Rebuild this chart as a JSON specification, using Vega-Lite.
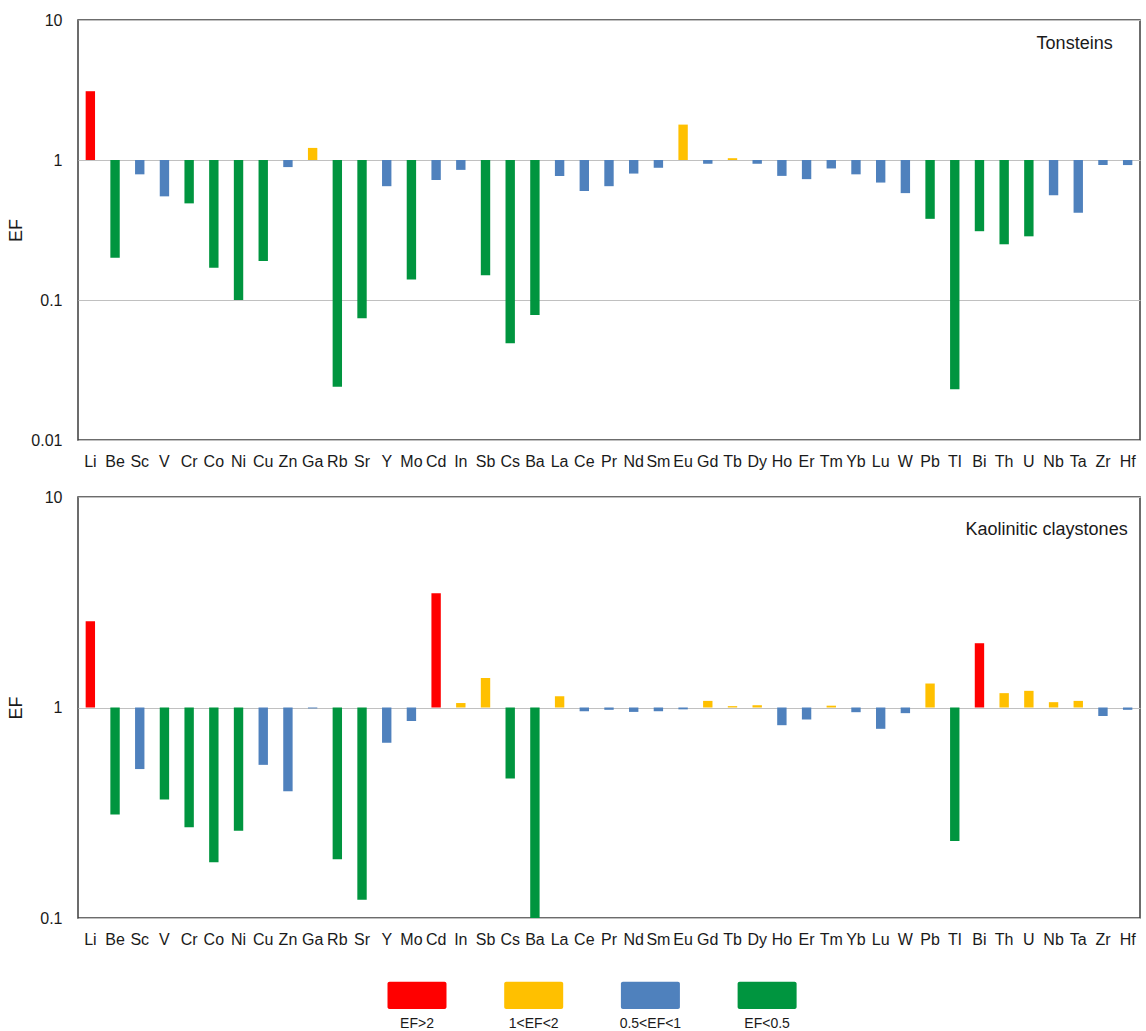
{
  "$schema": "https://vega.github.io/schema/vega-lite/v6.json",
  "padding": {"left": 6, "top": 11, "right": 4, "bottom": 4},
  "config": {
    "font": "Liberation Sans",
    "view": {"stroke": "#3c3c3c", "strokeWidth": 1.5},
    "axis": {"labelFont": "Liberation Sans", "titleFont": "Liberation Sans", "labelColor": "#1a1a1a", "titleColor": "#1a1a1a"},
    "text": {"font": "Liberation Sans", "color": "#1a1a1a"}
  },
  "datasets": {
    "ef": [
      {"rock": "Tonsteins", "el": "Li", "ef": 3.1, "cls": "EF>2"},
      {"rock": "Tonsteins", "el": "Be", "ef": 0.2, "cls": "EF<0.5"},
      {"rock": "Tonsteins", "el": "Sc", "ef": 0.79, "cls": "0.5<EF<1"},
      {"rock": "Tonsteins", "el": "V", "ef": 0.55, "cls": "0.5<EF<1"},
      {"rock": "Tonsteins", "el": "Cr", "ef": 0.49, "cls": "EF<0.5"},
      {"rock": "Tonsteins", "el": "Co", "ef": 0.17, "cls": "EF<0.5"},
      {"rock": "Tonsteins", "el": "Ni", "ef": 0.1, "cls": "EF<0.5"},
      {"rock": "Tonsteins", "el": "Cu", "ef": 0.19, "cls": "EF<0.5"},
      {"rock": "Tonsteins", "el": "Zn", "ef": 0.89, "cls": "0.5<EF<1"},
      {"rock": "Tonsteins", "el": "Ga", "ef": 1.22, "cls": "1<EF<2"},
      {"rock": "Tonsteins", "el": "Rb", "ef": 0.024, "cls": "EF<0.5"},
      {"rock": "Tonsteins", "el": "Sr", "ef": 0.074, "cls": "EF<0.5"},
      {"rock": "Tonsteins", "el": "Y", "ef": 0.65, "cls": "0.5<EF<1"},
      {"rock": "Tonsteins", "el": "Mo", "ef": 0.14, "cls": "EF<0.5"},
      {"rock": "Tonsteins", "el": "Cd", "ef": 0.72, "cls": "0.5<EF<1"},
      {"rock": "Tonsteins", "el": "In", "ef": 0.85, "cls": "0.5<EF<1"},
      {"rock": "Tonsteins", "el": "Sb", "ef": 0.15, "cls": "EF<0.5"},
      {"rock": "Tonsteins", "el": "Cs", "ef": 0.049, "cls": "EF<0.5"},
      {"rock": "Tonsteins", "el": "Ba", "ef": 0.078, "cls": "EF<0.5"},
      {"rock": "Tonsteins", "el": "La", "ef": 0.77, "cls": "0.5<EF<1"},
      {"rock": "Tonsteins", "el": "Ce", "ef": 0.6, "cls": "0.5<EF<1"},
      {"rock": "Tonsteins", "el": "Pr", "ef": 0.65, "cls": "0.5<EF<1"},
      {"rock": "Tonsteins", "el": "Nd", "ef": 0.8, "cls": "0.5<EF<1"},
      {"rock": "Tonsteins", "el": "Sm", "ef": 0.88, "cls": "0.5<EF<1"},
      {"rock": "Tonsteins", "el": "Eu", "ef": 1.79, "cls": "1<EF<2"},
      {"rock": "Tonsteins", "el": "Gd", "ef": 0.94, "cls": "0.5<EF<1"},
      {"rock": "Tonsteins", "el": "Tb", "ef": 1.03, "cls": "1<EF<2"},
      {"rock": "Tonsteins", "el": "Dy", "ef": 0.94, "cls": "0.5<EF<1"},
      {"rock": "Tonsteins", "el": "Ho", "ef": 0.77, "cls": "0.5<EF<1"},
      {"rock": "Tonsteins", "el": "Er", "ef": 0.73, "cls": "0.5<EF<1"},
      {"rock": "Tonsteins", "el": "Tm", "ef": 0.87, "cls": "0.5<EF<1"},
      {"rock": "Tonsteins", "el": "Yb", "ef": 0.79, "cls": "0.5<EF<1"},
      {"rock": "Tonsteins", "el": "Lu", "ef": 0.69, "cls": "0.5<EF<1"},
      {"rock": "Tonsteins", "el": "W", "ef": 0.58, "cls": "0.5<EF<1"},
      {"rock": "Tonsteins", "el": "Pb", "ef": 0.38, "cls": "EF<0.5"},
      {"rock": "Tonsteins", "el": "Tl", "ef": 0.023, "cls": "EF<0.5"},
      {"rock": "Tonsteins", "el": "Bi", "ef": 0.31, "cls": "EF<0.5"},
      {"rock": "Tonsteins", "el": "Th", "ef": 0.25, "cls": "EF<0.5"},
      {"rock": "Tonsteins", "el": "U", "ef": 0.285, "cls": "EF<0.5"},
      {"rock": "Tonsteins", "el": "Nb", "ef": 0.56, "cls": "0.5<EF<1"},
      {"rock": "Tonsteins", "el": "Ta", "ef": 0.42, "cls": "0.5<EF<1"},
      {"rock": "Tonsteins", "el": "Zr", "ef": 0.92, "cls": "0.5<EF<1"},
      {"rock": "Tonsteins", "el": "Hf", "ef": 0.92, "cls": "0.5<EF<1"},
      {"rock": "Kaolinitic", "el": "Li", "ef": 2.57, "cls": "EF>2"},
      {"rock": "Kaolinitic", "el": "Be", "ef": 0.31, "cls": "EF<0.5"},
      {"rock": "Kaolinitic", "el": "Sc", "ef": 0.51, "cls": "0.5<EF<1"},
      {"rock": "Kaolinitic", "el": "V", "ef": 0.366, "cls": "EF<0.5"},
      {"rock": "Kaolinitic", "el": "Cr", "ef": 0.27, "cls": "EF<0.5"},
      {"rock": "Kaolinitic", "el": "Co", "ef": 0.184, "cls": "EF<0.5"},
      {"rock": "Kaolinitic", "el": "Ni", "ef": 0.26, "cls": "EF<0.5"},
      {"rock": "Kaolinitic", "el": "Cu", "ef": 0.534, "cls": "0.5<EF<1"},
      {"rock": "Kaolinitic", "el": "Zn", "ef": 0.4, "cls": "0.5<EF<1"},
      {"rock": "Kaolinitic", "el": "Ga", "ef": 0.99, "cls": "0.5<EF<1"},
      {"rock": "Kaolinitic", "el": "Rb", "ef": 0.19, "cls": "EF<0.5"},
      {"rock": "Kaolinitic", "el": "Sr", "ef": 0.122, "cls": "EF<0.5"},
      {"rock": "Kaolinitic", "el": "Y", "ef": 0.68, "cls": "0.5<EF<1"},
      {"rock": "Kaolinitic", "el": "Mo", "ef": 0.863, "cls": "0.5<EF<1"},
      {"rock": "Kaolinitic", "el": "Cd", "ef": 3.49, "cls": "EF>2"},
      {"rock": "Kaolinitic", "el": "In", "ef": 1.05, "cls": "1<EF<2"},
      {"rock": "Kaolinitic", "el": "Sb", "ef": 1.38, "cls": "1<EF<2"},
      {"rock": "Kaolinitic", "el": "Cs", "ef": 0.46, "cls": "EF<0.5"},
      {"rock": "Kaolinitic", "el": "Ba", "ef": 0.1, "cls": "EF<0.5"},
      {"rock": "Kaolinitic", "el": "La", "ef": 1.13, "cls": "1<EF<2"},
      {"rock": "Kaolinitic", "el": "Ce", "ef": 0.96, "cls": "0.5<EF<1"},
      {"rock": "Kaolinitic", "el": "Pr", "ef": 0.975, "cls": "0.5<EF<1"},
      {"rock": "Kaolinitic", "el": "Nd", "ef": 0.953, "cls": "0.5<EF<1"},
      {"rock": "Kaolinitic", "el": "Sm", "ef": 0.96, "cls": "0.5<EF<1"},
      {"rock": "Kaolinitic", "el": "Eu", "ef": 0.98, "cls": "0.5<EF<1"},
      {"rock": "Kaolinitic", "el": "Gd", "ef": 1.075, "cls": "1<EF<2"},
      {"rock": "Kaolinitic", "el": "Tb", "ef": 1.015, "cls": "1<EF<2"},
      {"rock": "Kaolinitic", "el": "Dy", "ef": 1.025, "cls": "1<EF<2"},
      {"rock": "Kaolinitic", "el": "Ho", "ef": 0.824, "cls": "0.5<EF<1"},
      {"rock": "Kaolinitic", "el": "Er", "ef": 0.877, "cls": "0.5<EF<1"},
      {"rock": "Kaolinitic", "el": "Tm", "ef": 1.02, "cls": "1<EF<2"},
      {"rock": "Kaolinitic", "el": "Yb", "ef": 0.95, "cls": "0.5<EF<1"},
      {"rock": "Kaolinitic", "el": "Lu", "ef": 0.792, "cls": "0.5<EF<1"},
      {"rock": "Kaolinitic", "el": "W", "ef": 0.94, "cls": "0.5<EF<1"},
      {"rock": "Kaolinitic", "el": "Pb", "ef": 1.3, "cls": "1<EF<2"},
      {"rock": "Kaolinitic", "el": "Tl", "ef": 0.232, "cls": "EF<0.5"},
      {"rock": "Kaolinitic", "el": "Bi", "ef": 2.02, "cls": "EF>2"},
      {"rock": "Kaolinitic", "el": "Th", "ef": 1.17, "cls": "1<EF<2"},
      {"rock": "Kaolinitic", "el": "U", "ef": 1.2, "cls": "1<EF<2"},
      {"rock": "Kaolinitic", "el": "Nb", "ef": 1.06, "cls": "1<EF<2"},
      {"rock": "Kaolinitic", "el": "Ta", "ef": 1.075, "cls": "1<EF<2"},
      {"rock": "Kaolinitic", "el": "Zr", "ef": 0.912, "cls": "0.5<EF<1"},
      {"rock": "Kaolinitic", "el": "Hf", "ef": 0.975, "cls": "0.5<EF<1"}
    ],
    "legend": [
      {"cls": "EF>2"},
      {"cls": "1<EF<2"},
      {"cls": "0.5<EF<1"},
      {"cls": "EF<0.5"}
    ],
    "labels": [
      {"rock": "Tonsteins", "label": "Tonsteins"},
      {"rock": "Kaolinitic", "label": "Kaolinitic claystones"}
    ]
  },
  "spacing": 57,
  "bounds": "flush",
  "vconcat": [
    {
      "width": 1062,
      "height": 420,
      "layer": [
        {
          "data": {"name": "ef"},
          "transform": [{"filter": "datum.rock === 'Tonsteins'"}],
          "mark": {"type": "bar", "clip": true},
          "encoding": {
            "x": {"field": "el", "type": "nominal", "sort": null,
              "scale": {"domain": ["Li","Be","Sc","V","Cr","Co","Ni","Cu","Zn","Ga","Rb","Sr","Y","Mo","Cd","In","Sb","Cs","Ba","La","Ce","Pr","Nd","Sm","Eu","Gd","Tb","Dy","Ho","Er","Tm","Yb","Lu","W","Pb","Tl","Bi","Th","U","Nb","Ta","Zr","Hf"], "paddingInner": 0.62, "paddingOuter": 0.31},
              "axis": {"title": null, "labelAngle": 0, "ticks": false, "domain": false, "grid": false, "labelPadding": 13, "labelFontSize": 16, "labelOverlap": false}},
            "y": {"field": "ef", "type": "quantitative",
              "scale": {"type": "log", "domain": [0.01, 10], "nice": false},
              "axis": {"title": "EF", "values": [0.01, 0.1, 1, 10], "format": "~g", "grid": true, "gridColor": "#c0c0c0", "gridWidth": 1.2, "ticks": false, "domain": false, "labelPadding": 16, "labelFontSize": 16, "titleFontSize": 18, "titleFontWeight": "normal", "titlePadding": 2, "minExtent": 51, "maxExtent": 51}},
            "y2": {"datum": 1},
            "color": {"field": "cls", "type": "nominal",
              "scale": {"domain": ["EF>2", "1<EF<2", "0.5<EF<1", "EF<0.5"], "range": ["#FF0000", "#FFC000", "#4F81BD", "#00953F"]},
              "legend": null}
          }
        },
        {
          "data": {"name": "labels"},
          "transform": [{"filter": "datum.rock === 'Tonsteins'"}],
          "mark": {"type": "text", "align": "right", "baseline": "middle", "fontSize": 18, "dx": -15},
          "encoding": {
            "x": {"datum": "Hf"},
            "y": {"datum": 6.74, "type": "quantitative"},
            "text": {"field": "label"}
          }
        }
      ]
    },
    {
      "width": 1062,
      "height": 421,
      "layer": [
        {
          "data": {"name": "ef"},
          "transform": [{"filter": "datum.rock === 'Kaolinitic'"}],
          "mark": {"type": "bar", "clip": true},
          "encoding": {
            "x": {"field": "el", "type": "nominal", "sort": null,
              "scale": {"domain": ["Li","Be","Sc","V","Cr","Co","Ni","Cu","Zn","Ga","Rb","Sr","Y","Mo","Cd","In","Sb","Cs","Ba","La","Ce","Pr","Nd","Sm","Eu","Gd","Tb","Dy","Ho","Er","Tm","Yb","Lu","W","Pb","Tl","Bi","Th","U","Nb","Ta","Zr","Hf"], "paddingInner": 0.62, "paddingOuter": 0.31},
              "axis": {"title": null, "labelAngle": 0, "ticks": false, "domain": false, "grid": false, "labelPadding": 13, "labelFontSize": 16, "labelOverlap": false}},
            "y": {"field": "ef", "type": "quantitative",
              "scale": {"type": "log", "domain": [0.1, 10], "nice": false},
              "axis": {"title": "EF", "values": [0.1, 1, 10], "format": "~g", "grid": true, "gridColor": "#c0c0c0", "gridWidth": 1.2, "ticks": false, "domain": false, "labelPadding": 16, "labelFontSize": 16, "titleFontSize": 18, "titleFontWeight": "normal", "titlePadding": 2, "minExtent": 51, "maxExtent": 51}},
            "y2": {"datum": 1},
            "color": {"field": "cls", "type": "nominal",
              "scale": {"domain": ["EF>2", "1<EF<2", "0.5<EF<1", "EF<0.5"], "range": ["#FF0000", "#FFC000", "#4F81BD", "#00953F"]},
              "legend": null}
          }
        },
        {
          "data": {"name": "labels"},
          "transform": [{"filter": "datum.rock === 'Kaolinitic'"}],
          "mark": {"type": "text", "align": "right", "baseline": "middle", "fontSize": 18, "dx": 0},
          "encoding": {
            "x": {"datum": "Hf"},
            "y": {"datum": 6.96, "type": "quantitative"},
            "text": {"field": "label"}
          }
        }
      ]
    },
    {
      "width": 1062,
      "height": 34,
      "view": {"stroke": null},
      "data": {"name": "legend"},
      "mark": {"type": "bar", "width": 59, "cornerRadius": 2},
      "encoding": {
        "x": {"field": "cls", "type": "nominal", "sort": null,
          "scale": {"domain": [" ", "  ", "EF>2", "1<EF<2", "0.5<EF<1", "EF<0.5", "   ", "    "], "paddingInner": 0, "paddingOuter": 0.55, "align": 0.368},
          "axis": {"title": null, "labelAngle": 0, "ticks": false, "domain": false, "grid": false, "labelPadding": 7, "labelFontSize": 14}},
        "y": {"datum": 0, "type": "quantitative", "scale": {"domain": [0, 1], "nice": false}, "axis": null},
        "y2": {"datum": 0.8},
        "color": {"field": "cls", "type": "nominal",
          "scale": {"domain": ["EF>2", "1<EF<2", "0.5<EF<1", "EF<0.5"], "range": ["#FF0000", "#FFC000", "#4F81BD", "#00953F"]},
          "legend": null}
      }
    }
  ]
}
